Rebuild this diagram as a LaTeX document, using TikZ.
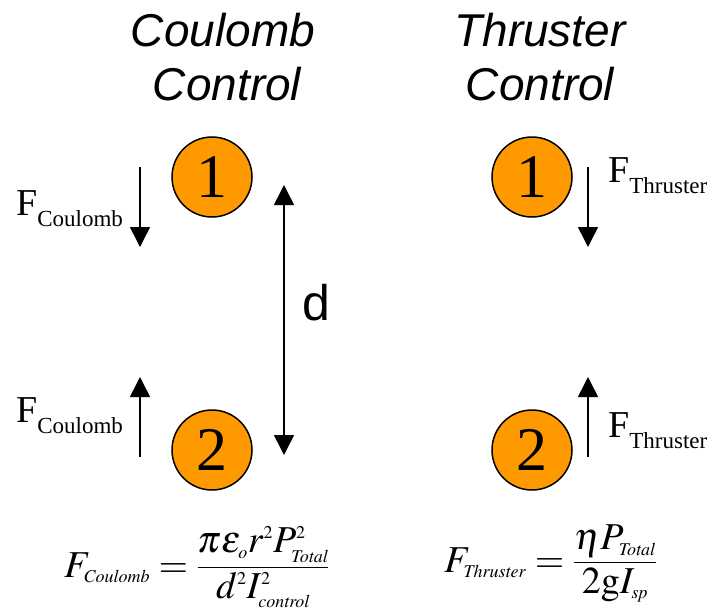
\documentclass[tikz,border=0pt]{standalone}
\usepackage{mathptmx}
\usepackage[no-math]{fontspec}
\setmainfont{Liberation Serif}
\setsansfont{Liberation Sans}
\usetikzlibrary{arrows.meta}
\DeclareMathSizes{38}{38}{18}{13}
\definecolor{ballorange}{HTML}{FF9900}
\tikzset{
  title/.style={font=\sffamily\itshape\fontsize{46}{52}\selectfont, anchor=base, inner sep=0pt},
  ball/.style={circle, draw=black, line width=1.5pt, fill=ballorange, minimum size=80pt, inner sep=0pt,
    font=\rmfamily\fontsize{62}{62}\selectfont},
  force/.style={-{Triangle[width=20pt,length=20pt]}, line width=1.6pt},
  dist/.style={{Triangle[width=20pt,length=20pt]}-{Triangle[width=20pt,length=20pt]}, line width=1.6pt},
  flabel/.style={anchor=base west, inner sep=0pt, font=\rmfamily},
  eqn/.style={anchor=base west, inner sep=0pt, font=\fontsize{38}{46}\selectfont}
}
\newcommand{\flab}[1]{{\fontsize{38}{40}\selectfont F}\raisebox{-11pt}{\fontsize{23}{25}\selectfont #1}}
\newcommand{\fracparams}{\fontdimen8\textfont2=22pt \fontdimen11\textfont2=21pt \thickmuskip=4mu}
\begin{document}
\begin{tikzpicture}[x=1pt,y=-1pt]
\useasboundingbox (0,0) rectangle (712,610);
% titles
\node[title] (t1a) at (223,47) {Coulomb};
\node[title] (t1b) at (227,100) {Control};
\node[title] (t2a) at (540,47) {Thruster};
\node[title] (t2b) at (540,100) {Control};
% balls
\node[ball] (c1) at (212,177) {1};
\node[ball] (c2) at (212,450) {2};
\node[ball] (r1) at (532,177) {1};
\node[ball] (r2) at (532,450) {2};
% force labels
\node[flabel] (fc1) at (16,215) {\flab{Coulomb}};
\node[flabel] (fc2) at (16,422) {\flab{Coulomb}};
\node[flabel] (ft1) at (608,182) {\flab{Thruster}};
\node[flabel] (ft2) at (608,437) {\flab{Thruster}};
% arrow endpoints
\coordinate (a1s) at (140,167);
\coordinate (a1e) at (140,247);
\coordinate (a2s) at (140,457);
\coordinate (a2e) at (140,377);
\coordinate (b1s) at (588,167);
\coordinate (b1e) at (588,247);
\coordinate (b2s) at (588,457);
\coordinate (b2e) at (588,377);
\coordinate (dtop) at (284,185);
\coordinate (dbot) at (284,455);
\draw[force] (a1s) -- (a1e);
\draw[force] (a2s) -- (a2e);
\draw[force] (b1s) -- (b1e);
\draw[force] (b2s) -- (b2e);
\draw[dist] (dtop) -- (dbot);
\node[font=\sffamily\fontsize{50}{50}\selectfont, inner sep=0pt] (dl) at (316,303) {d};
% equations
\node[eqn] (eq1) at (64,577) {$\fracparams\displaystyle F_{\mathit{Coulomb}}=\frac{\pi\epsilon_{o}r^{2}P_{\mathit{Total}}^{2}}{\smash{d^{2}I_{\mathit{control}}^{2}}}$};
\node[eqn] (eq2) at (444,572) {$\fracparams\displaystyle F_{\mathit{Thruster}}=\frac{\eta P_{\mathit{Total}}}{\smash{2\mathrm{g}I_{\mathit{sp}}}}$};
\end{tikzpicture}
\end{document}
